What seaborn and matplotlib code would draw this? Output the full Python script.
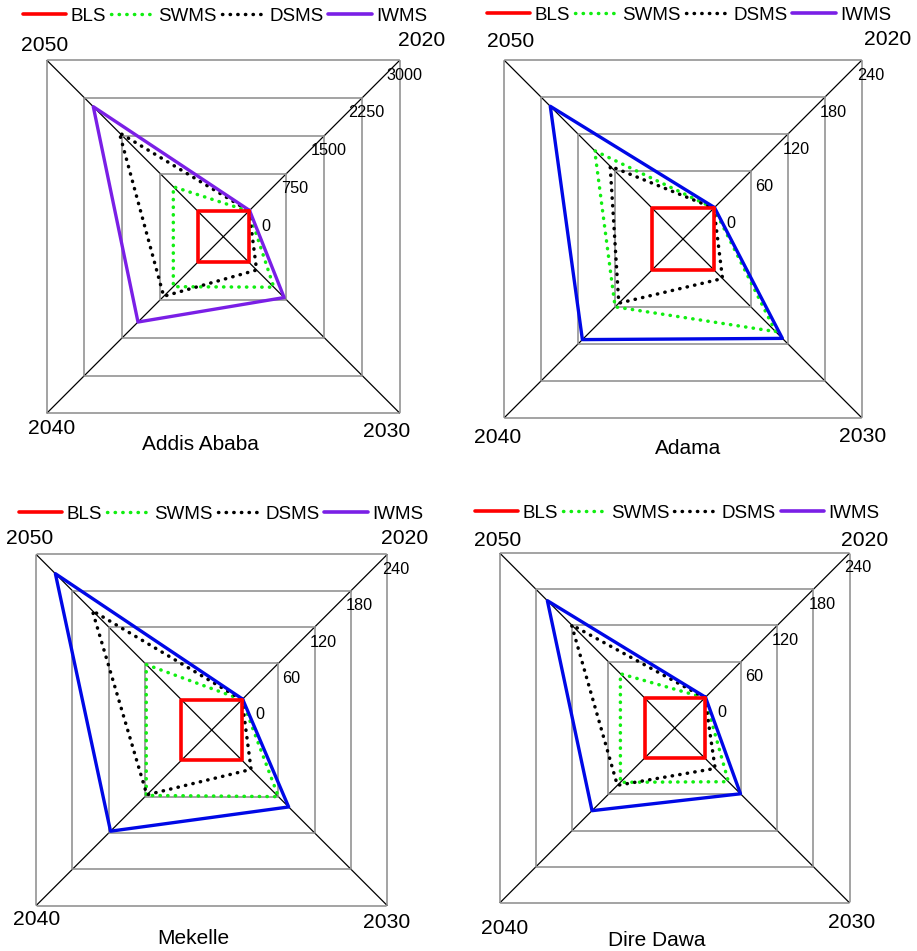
import numpy as np
import seaborn as sns
import matplotlib.pyplot as plt
from matplotlib.lines import Line2D
from matplotlib.transforms import offset_copy

sns.set_style('white')
plt.rcParams['font.family'] = ['Liberation Sans', 'DejaVu Sans']
plt.rcParams['text.color'] = 'black'

# data
years = ['2020', '2030', '2040', '2050']
cities = ['Addis Ababa', 'Adama', 'Mekelle', 'Dire Dawa']
series_names = ['BLS', 'SWMS', 'DSMS', 'IWMS']

bls = [[0, 0, 0, 0], [0, 0, 0, 0], [0, 0, 0, 0], [0, 0, 0, 0]]
swms = [[5, 500, 490, 490], [0, 100, 60, 93], [0, 60, 58, 58], [0, 39, 40, 40]]
dsms = [[10, 160, 680, 1560], [0, 14, 54, 68], [0, 15, 57, 147], [0, 17, 45, 121]]
iwms = [[20, 705, 1190, 2075], [1, 111, 113, 165], [1, 77, 117, 208], [1, 59, 87, 161]]

axis_min = [-500, -50, -50, -50]
axis_step = [750, 60, 60, 60]
n_rings = 4

# layout (pixels, top-left origin)
W, H = 917, 951
centres = [(223.3, 236.7, 176.7), (683, 239, 179), (211.7, 730, 175.7), (674.7, 728, 175)]
legend_pos = [(225, 16), (689, 15), (221, 514), (677.5, 513)]
title_off = [(-23, 31), (5, 30), (-18, 33), (-18, 37)]
year_off = [
    [(22, -20), (-13, 18), (5, 15), (-2, -15)],
    [(26, -21), (1, 19), (-6, 20), (7, -19)],
    [(17, -16), (-1, 17), (1, 14), (-6, -16)],
    [(15, -13), (2, 19), (5, 26), (-2, -13)],
]

red = '#FF0000'
green = '#11EE11'
black = '#000000'
purple = '#7A1FE6'
blue = '#0008E6'
iwms_line_colors = [purple, blue, blue, blue]
dots = (0, (0.1, 2.1))

fig = plt.figure(figsize=(W / 100, H / 100), dpi=100)

angles = np.arange(4) * np.pi / 2
angles_closed = np.append(angles, angles[0])


def closed(vals):
    return np.append(vals, vals[0])


for i, city in enumerate(cities):
    cx, cy, half = centres[i]
    R = half * np.sqrt(2)
    ax = fig.add_axes([(cx - R) / W, 1 - (cy + R) / H, 2 * R / W, 2 * R / H], projection='polar')
    ax.set_theta_offset(np.pi / 4)
    ax.set_theta_direction(-1)
    ax.patch.set_facecolor('none')
    ax.spines['polar'].set_visible(False)

    step = axis_step[i]
    rmax = step * n_rings
    ax.set_ylim(axis_min[i], rmax)
    ring_vals = [step * k for k in range(n_rings + 1)]
    ax.set_yticks(ring_vals)
    ax.set_yticklabels([])
    ax.yaxis.grid(False)
    ax.set_xticks(angles)
    ax.set_xticklabels([])
    ax.xaxis.grid(True, color='black', linewidth=0.9)

    # square rings
    for v in ring_vals:
        ax.plot(angles_closed, [v] * 5, color='#8a8a8a', linewidth=1.1, zorder=1)

    # radial labels along 2020 axis
    tr = offset_copy(ax.transData, fig=fig, x=22, y=-15, units='dots')
    for v in ring_vals:
        ax.text(0, v, str(v), ha='right', va='center', fontsize=11.7, transform=tr)

    # year labels at corners
    for k, yr in enumerate(years):
        dx, dy = year_off[i][k]
        t = offset_copy(ax.transData, fig=fig, x=dx, y=-dy, units='dots')
        ax.text(angles[k], rmax, yr, ha='center', va='center', fontsize=15.2, transform=t)

    # data series
    sns.lineplot(x=angles_closed, y=closed(swms[i]), sort=False, estimator=None, ax=ax,
                 color=green, linewidth=2.5, linestyle=dots, dash_capstyle='round', zorder=3)
    sns.lineplot(x=angles_closed, y=closed(dsms[i]), sort=False, estimator=None, ax=ax,
                 color=black, linewidth=2.5, linestyle=dots, dash_capstyle='round', zorder=3)
    sns.lineplot(x=angles_closed, y=closed(iwms[i]), sort=False, estimator=None, ax=ax,
                 color=iwms_line_colors[i], linewidth=2.4, zorder=4)
    sns.lineplot(x=angles_closed, y=closed(bls[i]), sort=False, estimator=None, ax=ax,
                 color=red, linewidth=2.6, zorder=5)
    ax.set_xlabel('')
    ax.set_ylabel('')

    # city name
    tdx, tdy = title_off[i]
    t = offset_copy(ax.transAxes, fig=fig, x=tdx, y=-(half + tdy), units='dots')
    ax.text(0.5, 0.5, city, ha='center', va='center', fontsize=15, transform=t)

    # legend (IWMS always purple in the key)
    handles = [
        Line2D([], [], color=red, linewidth=2.6),
        Line2D([], [], color=green, linewidth=2.5, linestyle=dots, dash_capstyle='round'),
        Line2D([], [], color=black, linewidth=2.5, linestyle=dots, dash_capstyle='round'),
        Line2D([], [], color=purple, linewidth=2.6),
    ]
    lx, ly = legend_pos[i]
    ax.legend(handles, series_names, loc='center', ncol=4, frameon=False,
              bbox_to_anchor=(lx / W, 1 - ly / H), bbox_transform=fig.transFigure,
              fontsize=13.5, handlelength=2.3, handletextpad=0.25, columnspacing=0.25,
              borderpad=0, borderaxespad=0)

fig.savefig('out.png', dpi=100)
